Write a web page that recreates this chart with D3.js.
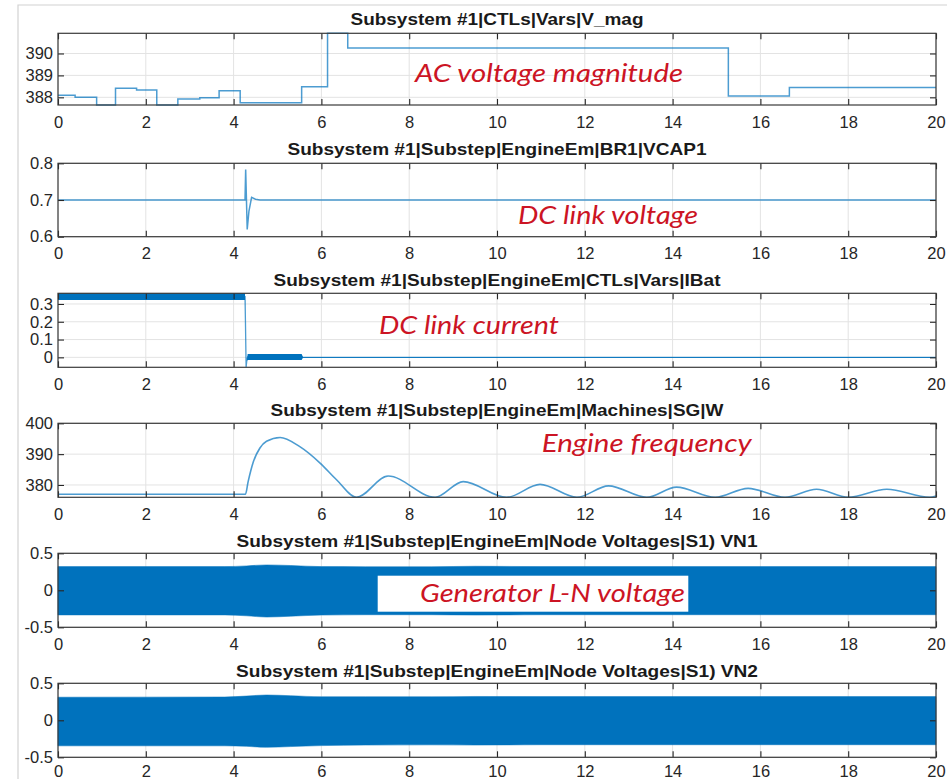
<!DOCTYPE html>
<html>
<head>
<meta charset="utf-8">
<script src="https://cdn.jsdelivr.net/npm/d3@7"></script>
<style>
  html, body { margin: 0; padding: 0; background: #ffffff; }
  svg { display: block; }
</style>
</head>
<body>
<svg id="fig" width="947" height="779"></svg>
<script>
// ---- Time axis shared by all six traces (seconds) ----
const timeTicks = [0, 2, 4, 6, 8, 10, 12, 14, 16, 18, 20];
const timeTickLabels = ["0", "2", "4", "6", "8", "10", "12", "14", "16", "18", "20"];

// ---- 1) AC voltage magnitude, piecewise constant controller variable ----
const vmagTime  = [0, 0.39, 0.88, 1.31, 1.79, 2.25, 2.73, 3.23, 3.67, 4.15, 5.55, 6.14, 6.60, 15.27, 16.66, 20];
const vmagValue = [388.10, 388.00, 387.65, 388.41, 388.33, 387.65, 387.92, 387.98, 388.30, 387.75, 388.48, 390.92, 390.25, 388.06, 388.45, 388.45];
const vmagTicks = [388, 389, 390];
const vmagTickLabels = ["388", "389", "390"];

// ---- 2) DC link capacitor voltage ----
const vcapTime  = [0, 4.26, 4.275, 4.31, 4.35, 4.41, 4.50, 4.60, 20];
const vcapValue = [0.700, 0.700, 0.783, 0.620, 0.670, 0.707, 0.702, 0.700, 0.700];
const vcapTicks = [0.6, 0.7, 0.8];
const vcapTickLabels = ["0.6", "0.7", "0.8"];

// ---- 3) DC link (battery) current: mean value and ripple half-width ----
const ibatTime   = [0, 4.26, 4.27, 4.285, 4.30, 4.32, 5.55, 5.58, 20];
const ibatValue  = [0.341, 0.341, 0.200, -0.056, -0.020, 0.002, 0.002, 0.000, 0.000];
const ibatSpread = [0.019, 0.019, 0.000, 0.000, 0.000, 0.017, 0.017, 0.002, 0.002];
const ibatTicks = [0, 0.1, 0.2, 0.3];
const ibatTickLabels = ["0", "0.1", "0.2", "0.3"];

// ---- 4) Engine / generator speed W ----
const speedTime  = [0, 4.27, 4.33, 4.45, 4.60, 4.75, 5.06, 5.50, 5.97, 6.35, 6.80, 7.52, 8.59, 9.23, 10.22, 10.98, 11.82, 12.54, 13.41, 14.09, 14.97, 15.72, 16.56, 17.28, 18.00, 18.88, 19.86, 20];
const speedValue = [377.0, 377.0, 381.0, 387.5, 392.0, 394.2, 395.4, 392.5, 387.1, 381.6, 376.0, 382.9, 376.0, 381.1, 376.0, 380.2, 376.0, 379.7, 376.0, 379.3, 376.0, 378.9, 376.0, 378.6, 376.0, 378.6, 376.0, 376.4];
const speedTicks = [380, 390, 400];
const speedTickLabels = ["380", "390", "400"];

// ---- 5) & 6) Node voltages VN1 / VN2: envelope of the AC waveform ----
const vn1Time  = [0, 3.8, 4.3, 4.75, 5.3, 6.0, 7.0, 8.5, 9.5, 11.0, 20];
const vn1Upper = [0.320, 0.320, 0.330, 0.343, 0.335, 0.320, 0.318, 0.318, 0.325, 0.320, 0.320];
const vn1Lower = [-0.333, -0.333, -0.345, -0.362, -0.350, -0.335, -0.330, -0.330, -0.335, -0.330, -0.330];
const vn2Time  = [0, 3.8, 4.3, 4.75, 5.3, 6.0, 7.0, 8.5, 9.5, 11.0, 20];
const vn2Upper = [0.312, 0.315, 0.328, 0.342, 0.332, 0.318, 0.318, 0.318, 0.322, 0.320, 0.320];
const vn2Lower = [-0.345, -0.345, -0.352, -0.365, -0.355, -0.342, -0.335, -0.332, -0.335, -0.330, -0.330];
const vnTicks = [-0.5, 0, 0.5];
const vnTickLabels = ["-0.5", "0", "0.5"];

const panelTitles = [
  "Subsystem #1|CTLs|Vars|V_mag",
  "Subsystem #1|Substep|EngineEm|BR1|VCAP1",
  "Subsystem #1|Substep|EngineEm|CTLs|Vars|IBat",
  "Subsystem #1|Substep|EngineEm|Machines|SG|W",
  "Subsystem #1|Substep|EngineEm|Node Voltages|S1) VN1",
  "Subsystem #1|Substep|EngineEm|Node Voltages|S1) VN2"
];
const panelNotes = [
  "AC voltage magnitude",
  "DC link voltage",
  "DC link current",
  "Engine frequency",
  "Generator L-N voltage"
];

// ---------------------------------------------------------------
const svg = d3.select("#fig");
const BLUE = "#0072BD";
const INK = "#262626";
const plotLeft = 58, plotRight = 936;

// light outer frame of the figure window
svg.append("path")
  .attr("d", "M18,779 V5 H947")
  .attr("fill", "none")
  .attr("stroke", "#d2d2d2")
  .attr("stroke-width", 1.2);

const layout = [
  { top: 33.3,  height: 71.7, yDomain: [387.65, 390.92], ticks: vmagTicks,  labels: vmagTickLabels,  titleY: 24.5, titleW: 293, xPad: 11 },
  { top: 163.3, height: 73.4, yDomain: [0.6, 0.8],       ticks: vcapTicks,  labels: vcapTickLabels,  titleY: 155,  titleW: 419, xPad: 11 },
  { top: 293.3, height: 74,   yDomain: [-0.056, 0.36],   ticks: ibatTicks,  labels: ibatTickLabels,  titleY: 286,  titleW: 447, xPad: 11 },
  { top: 423.3, height: 74,   yDomain: [376, 400],       ticks: speedTicks, labels: speedTickLabels, titleY: 416,  titleW: 453, xPad: 11 },
  { top: 553.3, height: 74,   yDomain: [-0.5, 0.5],      ticks: vnTicks,    labels: vnTickLabels,    titleY: 546.5, titleW: 521, xPad: 11 },
  { top: 683.3, height: 74,   yDomain: [-0.5, 0.5],      ticks: vnTicks,    labels: vnTickLabels,    titleY: 676.5, titleW: 522, xPad: 8 }
];

const x = d3.scaleLinear().domain([0, 20]).range([plotLeft, plotRight]);

function makePanel(i) {
  const L = layout[i];
  const bottom = L.top + L.height;
  const y = d3.scaleLinear().domain(L.yDomain).range([bottom, L.top]);
  const g = svg.append("g").attr("class", "panel-" + i);

  // grid
  const grid = g.append("g").attr("stroke", "#e3e3e3").attr("stroke-width", 1);
  grid.selectAll("line.gx").data(timeTicks).join("line")
    .attr("x1", d => x(d)).attr("x2", d => x(d))
    .attr("y1", L.top).attr("y2", bottom);
  grid.selectAll("line.gy").data(L.ticks).join("line")
    .attr("x1", plotLeft).attr("x2", plotRight)
    .attr("y1", d => y(d)).attr("y2", d => y(d));

  const plot = g.append("g").attr("class", "data");

  // axes (ticks point inward on all four sides)
  const axFont = g => g.selectAll("text")
    .attr("font-family", "'Liberation Sans', Arial, sans-serif")
    .attr("font-size", "16.5px")
    .attr("fill", INK);
  const axStyle = sel => {
    sel.select(".domain").remove();
    sel.selectAll(".tick line").attr("stroke", INK).attr("stroke-width", 1.1);
  };

  g.append("g").attr("transform", `translate(0,${bottom})`)
    .call(d3.axisBottom(x).tickValues(timeTicks).tickFormat((d, k) => timeTickLabels[k]).tickSize(-6).tickPadding(L.xPad))
    .call(axStyle).call(axFont);
  g.append("g").attr("transform", `translate(0,${L.top})`)
    .call(d3.axisTop(x).tickValues(timeTicks).tickFormat("").tickSize(-6))
    .call(axStyle);
  g.append("g").attr("transform", `translate(${plotLeft},0)`)
    .call(d3.axisLeft(y).tickValues(L.ticks).tickFormat((d, k) => L.labels[k]).tickSize(-6).tickPadding(5))
    .call(axStyle).call(axFont);
  g.append("g").attr("transform", `translate(${plotRight},0)`)
    .call(d3.axisRight(y).tickValues(L.ticks).tickFormat("").tickSize(-6))
    .call(axStyle);

  // box
  g.append("rect")
    .attr("x", plotLeft).attr("y", L.top)
    .attr("width", plotRight - plotLeft).attr("height", L.height)
    .attr("fill", "none").attr("stroke", "#3a3a3a").attr("stroke-width", 1.2);

  // title
  g.append("text")
    .attr("x", (plotLeft + plotRight) / 2).attr("y", L.titleY)
    .attr("text-anchor", "middle")
    .attr("font-family", "'Liberation Sans', Arial, sans-serif")
    .attr("font-weight", "bold")
    .attr("font-size", "16.5px")
    .attr("fill", "#1a1a1a")
    .attr("textLength", L.titleW)
    .attr("lengthAdjust", "spacingAndGlyphs")
    .text(panelTitles[i]);

  return { plot, y };
}

// 1) V_mag
{
  const { plot, y } = makePanel(0);
  const pts = vmagTime.map((t, k) => [t, vmagValue[k]]);
  plot.append("path").datum(pts)
    .attr("d", d3.line().x(d => x(d[0])).y(d => y(d[1])).curve(d3.curveStepAfter))
    .attr("fill", "none").attr("stroke", BLUE).attr("stroke-opacity", 0.7).attr("stroke-width", 1.5);
}

// 2) VCAP1
{
  const { plot, y } = makePanel(1);
  const pts = vcapTime.map((t, k) => [t, vcapValue[k]]);
  plot.append("path").datum(pts)
    .attr("d", d3.line().x(d => x(d[0])).y(d => y(d[1])))
    .attr("fill", "none").attr("stroke", BLUE).attr("stroke-opacity", 0.7).attr("stroke-width", 1.5);
}

// 3) IBat with ripple band
{
  const { plot, y } = makePanel(2);
  const pts = ibatTime.map((t, k) => [t, ibatValue[k], ibatSpread[k]]);
  plot.append("path").datum(pts)
    .attr("d", d3.area().x(d => x(d[0])).y0(d => y(d[1] - d[2])).y1(d => y(d[1] + d[2])))
    .attr("fill", BLUE).attr("stroke", "none");
  plot.append("path").datum(pts)
    .attr("d", d3.line().x(d => x(d[0])).y(d => y(d[1])))
    .attr("fill", "none").attr("stroke", BLUE).attr("stroke-opacity", 0.7).attr("stroke-width", 1.3);
}

// 4) Speed W
{
  const { plot, y } = makePanel(3);
  const pts = speedTime.map((t, k) => [t, speedValue[k]]);
  plot.append("path").datum(pts)
    .attr("d", d3.line().x(d => x(d[0])).y(d => y(d[1])).curve(d3.curveMonotoneX))
    .attr("fill", "none").attr("stroke", BLUE).attr("stroke-opacity", 0.7).attr("stroke-width", 1.6);
}

// 5) & 6) node voltages as filled envelopes
function envelopePanel(i, times, upper, lower) {
  const { plot, y } = makePanel(i);
  const pts = times.map((t, k) => [t, lower[k], upper[k]]);
  plot.append("path").datum(pts)
    .attr("d", d3.area().x(d => x(d[0])).y0(d => y(d[1])).y1(d => y(d[2])).curve(d3.curveMonotoneX))
    .attr("fill", BLUE).attr("stroke", BLUE).attr("stroke-opacity", 0.5).attr("stroke-width", 1);
  return plot;
}
envelopePanel(4, vn1Time, vn1Upper, vn1Lower);
envelopePanel(5, vn2Time, vn2Upper, vn2Lower);

// ---- red annotations ----
const noteLayout = [
  { x: 415,   y: 81.5,  w: 268 },
  { x: 518,   y: 224,   w: 180 },
  { x: 379,   y: 334,   w: 180 },
  { x: 541.7, y: 452.3, w: 210 },
  { x: 420,   y: 601.7, w: 265, box: [377.7, 575.7, 310.6, 36] }
];
const notes = svg.append("g").attr("class", "notes");
noteLayout.forEach((n, k) => {
  if (n.box) {
    notes.append("rect")
      .attr("x", n.box[0]).attr("y", n.box[1])
      .attr("width", n.box[2]).attr("height", n.box[3])
      .attr("fill", "#ffffff");
  }
  notes.append("text")
    .attr("x", n.x).attr("y", n.y)
    .attr("font-family", "Lato, 'Open Sans', sans-serif")
    .attr("font-style", "italic")
    .attr("font-size", "26px")
    .attr("fill", "#cc1424")
    .attr("textLength", n.w)
    .attr("lengthAdjust", "spacingAndGlyphs")
    .text(panelNotes[k]);
});
</script>
</body>
</html>
